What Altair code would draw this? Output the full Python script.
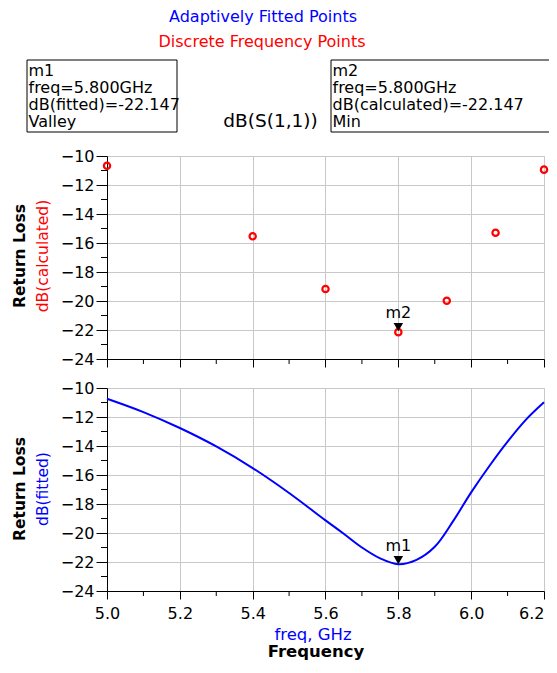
import altair as alt
import pandas as pd

# ---- data ----
calc_freq = [5.0, 5.4, 5.6, 5.8, 5.933, 6.067, 6.2]
calc_db = [-10.67, -15.54, -19.17, -22.147, -19.98, -15.29, -10.94]

fit_freq = [5.0, 5.1, 5.2, 5.3, 5.4, 5.5, 5.6, 5.65, 5.7, 5.75, 5.8,
            5.85, 5.9, 5.95, 6.0, 6.05, 6.1, 6.15, 6.2]
fit_db = [-10.74, -11.66, -12.76, -14.03, -15.52, -17.24, -19.13, -20.05, -21.0,
          -21.75, -22.147, -21.85, -20.95, -19.2, -17.2, -15.38, -13.7, -12.2, -10.99]

marker_freq = [5.8]
marker_calc = [-22.147]
marker_fit = [-22.147]

x_major = [5.0, 5.2, 5.4, 5.6, 5.8, 6.0, 6.2]
x_minor = [5.1, 5.3, 5.5, 5.7, 5.9, 6.1]
y_major = [-24, -22, -20, -18, -16, -14, -12, -10]
y_minor = [-23, -21, -19, -17, -15, -13, -11]

m1_lines = ["m1", "freq=5.800GHz", "dB(fitted)=-22.147", "Valley"]
m2_lines = ["m2", "freq=5.800GHz", "dB(calculated)=-22.147", "Min"]

calc_df = pd.DataFrame({"freq": calc_freq, "db": calc_db})
fit_df = pd.DataFrame({"freq": fit_freq, "db": fit_db})
m2_df = pd.DataFrame({"freq": marker_freq, "db": marker_calc})
m1_df = pd.DataFrame({"freq": marker_freq, "db": marker_fit})
xminor_df = pd.DataFrame({"freq": x_minor})
yminor_df = pd.DataFrame({"db": y_minor})
one = pd.DataFrame({"a": [0]})

FONT = "DejaVu Sans"
W, H = 437, 203

xscale = alt.Scale(domain=[5.0, 6.2], nice=False, zero=False)
yscale = alt.Scale(domain=[-24, -10], nice=False, zero=False)


def xaxis(labels):
    return alt.Axis(values=x_major, grid=True, gridColor="#c8c8c8", gridWidth=1,
                    tickSize=8, tickColor="#000000", domainColor="#000000",
                    labels=labels, format=".1f", labelFont=FONT, labelFontSize=16,
                    labelColor="#000000", labelPadding=6, labelFlush=False,
                    labelOverlap=False, title=None,
                    labelAlign={"condition": {"test": "datum.value > 6.1", "value": "right"},
                                "value": "center"})


yaxis = alt.Axis(values=y_major, grid=True, gridColor="#c8c8c8", gridWidth=1,
                 tickSize=11, tickColor="#000000", domainColor="#000000",
                 labelFont=FONT, labelFontSize=16, labelColor="#000000",
                 labelPadding=2, labelFlush=False, labelOverlap=False, title=None)


def minor_ticks(labels):
    xm = alt.Chart(xminor_df).mark_rule(color="#000000", strokeWidth=1).encode(
        x=alt.X("freq:Q", scale=xscale, axis=xaxis(labels)),
        y=alt.value(H), y2=alt.value(H + 5))
    ym = alt.Chart(yminor_df).mark_rule(color="#000000", strokeWidth=1).encode(
        y=alt.Y("db:Q", scale=yscale, axis=yaxis),
        x=alt.value(-6), x2=alt.value(0))
    return xm, ym


def label(text, x, y, size=16, color="#000000", weight="normal", angle=0,
          align="center", baseline="middle", line_height=None):
    kw = dict(font=FONT, fontSize=size, color=color, fontWeight=weight,
              angle=angle, align=align, baseline=baseline)
    if line_height is not None:
        kw["lineHeight"] = line_height
    return alt.Chart(one).mark_text(**kw).encode(
        x=alt.value(x), y=alt.value(y), text=alt.value(text))


def box(x0, x1, y0, y1):
    return alt.Chart(one).mark_rect(fillOpacity=0, stroke="#000000", strokeWidth=1).encode(
        x=alt.value(x0), x2=alt.value(x1), y=alt.value(y0), y2=alt.value(y1))


# ---------- upper panel ----------
base_up = alt.Chart(calc_df).encode(
    x=alt.X("freq:Q", scale=xscale, axis=xaxis(False)),
    y=alt.Y("db:Q", scale=yscale, axis=yaxis))
pts = base_up.mark_point(shape="circle", filled=False, color="#ff0000",
                         size=40, strokeWidth=2.2, opacity=1)
xm_u, ym_u = minor_ticks(False)
m2_tri = alt.Chart(m2_df).mark_point(shape="triangle-down", filled=True, color="#000000",
                                     size=90, yOffset=-5, opacity=1).encode(
    x=alt.X("freq:Q", scale=xscale, axis=xaxis(False)),
    y=alt.Y("db:Q", scale=yscale, axis=yaxis))
m2_txt = alt.Chart(m2_df).mark_text(font=FONT, fontSize=16, color="#000000",
                                    yOffset=-19).encode(
    x=alt.X("freq:Q", scale=xscale, axis=xaxis(False)),
    y=alt.Y("db:Q", scale=yscale, axis=yaxis),
    text=alt.value("m2"))

upper = alt.layer(
    pts, xm_u, ym_u, m2_tri, m2_txt,
    label("Adaptively Fitted Points", 156, -139, color="#0000ff"),
    label("Discrete Frequency Points", 155, -114, color="#ff0000"),
    box(-80, 70, -96, -24),
    box(224, 460, -96, -24),
    label(m1_lines, -78.5, -80, align="left", baseline="alphabetic", line_height=17),
    label(m2_lines, 225.5, -80, align="left", baseline="alphabetic", line_height=17),
    label("dB(S(1,1))", 163.5, -29.5, size=18.5, baseline="alphabetic"),
    label("Return Loss", -87, 100, size=15.5, weight="bold", angle=270),
    label("dB(calculated)", -64, 100, size=15.5, color="#ff0000", angle=270),
).properties(width=W, height=H)

# ---------- lower panel ----------
base_lo = alt.Chart(fit_df).encode(
    x=alt.X("freq:Q", scale=xscale, axis=xaxis(True)),
    y=alt.Y("db:Q", scale=yscale, axis=yaxis))
line = base_lo.mark_line(color="#0000ff", strokeWidth=2, interpolate="catmull-rom")
xm_l, ym_l = minor_ticks(True)
m1_tri = alt.Chart(m1_df).mark_point(shape="triangle-down", filled=True, color="#000000",
                                     size=90, yOffset=-4, opacity=1).encode(
    x=alt.X("freq:Q", scale=xscale, axis=xaxis(True)),
    y=alt.Y("db:Q", scale=yscale, axis=yaxis))
m1_txt = alt.Chart(m1_df).mark_text(font=FONT, fontSize=16, color="#000000",
                                    yOffset=-18).encode(
    x=alt.X("freq:Q", scale=xscale, axis=xaxis(True)),
    y=alt.Y("db:Q", scale=yscale, axis=yaxis),
    text=alt.value("m1"))

lower = alt.layer(
    line, xm_l, ym_l, m1_tri, m1_txt,
    label("Return Loss", -87, 101, size=15.5, weight="bold", angle=270),
    label("dB(fitted)", -64, 101, size=15.5, color="#0000ff", angle=270),
    label("freq, GHz", 206, 246.5, size=16.5, color="#0000ff"),
    label("Frequency", 209, 263.5, size=16.5, weight="bold"),
).properties(width=W, height=H)

chart = alt.vconcat(upper, lower, spacing=29, bounds="flush").properties(
    autosize=alt.AutoSizeParams(type="none"),
    padding={"left": 99, "top": 148, "right": 5, "bottom": 504},
).configure_view(stroke="#808080", strokeWidth=1).configure(background="#ffffff")

chart.save("out.html", embed_options={"renderer": "svg", "actions": False})
